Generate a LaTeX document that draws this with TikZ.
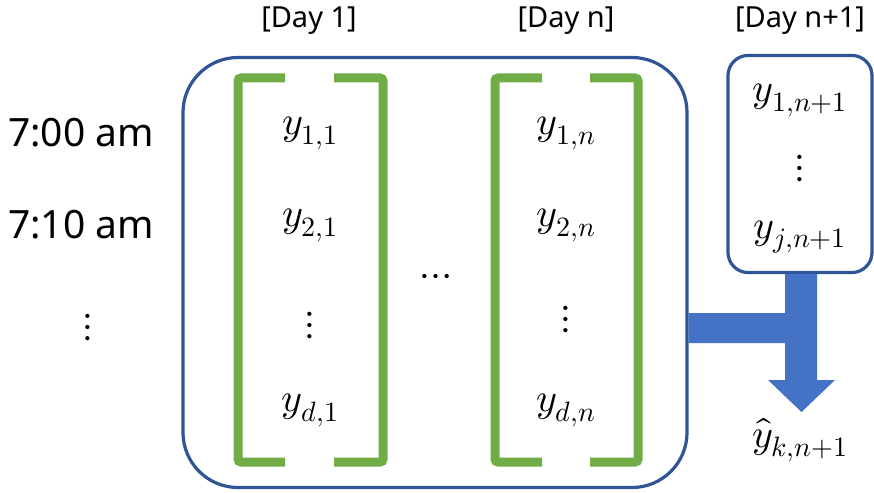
\documentclass[tikz,border=0pt]{standalone}
\usepackage{fontspec}
\usepackage{unicode-math}
\setmainfont{Noto Sans}
\setmathfont{Latin Modern Math}
\begin{document}
\begin{tikzpicture}[x=1pt,y=-1pt,
  boxline/.style={draw=boxblue,line width=3.2pt},
  brk/.style={draw=brgreen,line width=9pt,rounded corners=3pt},
  daylbl/.style={font=\fontsize{29}{33}\selectfont,inner sep=0pt},
  timelbl/.style={font=\fontsize{39}{44}\selectfont,inner sep=0pt},
  mth/.style={font=\fontsize{40}{44}\selectfont,inner sep=0pt},
  arrowfill/.style={fill=arrowblue,draw=none}]
\definecolor{boxblue}{HTML}{2F5597}
\definecolor{brgreen}{HTML}{70AD47}
\definecolor{arrowblue}{HTML}{4472C4}
\useasboundingbox[fill=white] (0,0) rectangle (874,492);

% boxes
\node[boxline,rounded corners=55pt,minimum width=504pt,minimum height=430pt,inner sep=0pt] (hist) at (435,272.5) {};
\node[boxline,rounded corners=20pt,minimum width=144pt,minimum height=217pt,inner sep=0pt] (next) at (800,164) {};

% arrow (connector from both boxes to the prediction)
\coordinate (tip) at (801.5,412);
\fill[arrowfill] (hist.east |- 0,313) -- (785,313) -- (next.south -| 785,0) -- (next.south -| 817,0)
  -- (817,380) -- (835,380) -- (tip) -- (768,380) -- (785,380) -- (785,343) -- (hist.east |- 0,343) -- cycle;

% brackets
\draw[brk] (285,78) -- (238,78) -- (238,462) -- (285,462);
\draw[brk] (334,78) -- (383,78) -- (383,462) -- (334,462);
\draw[brk] (542,78) -- (495,78) -- (495,462) -- (542,462);
\draw[brk] (590,78) -- (638,78) -- (638,462) -- (590,462);

% labels
\node[daylbl] (d1) at (309,21) {[Day 1]};
\node[daylbl] (dn) at (566,21) {[Day n]};
\node[daylbl] (dn1) at (800,21) {[Day n+1]};

\node[timelbl,anchor=west] (t0) at (8,133) {7:00 am};
\node[timelbl,anchor=west] (t1) at (8,225) {7:10 am};
\node[mth] (tv) at (88,327) {$\vdots$};

\node[mth] (y11) at (310,133) {$y_{1,1}$};
\node[mth] (y21) at (310,225) {$y_{2,1}$};
\node[mth] (v1) at (310,325) {$\vdots$};
\node[mth] (yd1) at (310,410) {$y_{d,1}$};

\node[mth] (y1n) at (566,133) {$y_{1,n}$};
\node[mth] (y2n) at (566,225) {$y_{2,n}$};
\node[mth] (vn) at (566,319) {$\vdots$};
\node[mth] (ydn) at (566,410) {$y_{d,n}$};

\node[mth] (hd) at (436,280) {$\cdots$};

\node[mth] (y1n1) at (800,100) {$y_{1,n+1}$};
\node[mth] (vn1) at (800,168) {$\vdots$};
\node[mth] (yjn1) at (800,237) {$y_{j,n+1}$};

\node[mth] (yhat) at (800,440) {$\hat{y}_{k,n+1}$};
\end{tikzpicture}
\end{document}
